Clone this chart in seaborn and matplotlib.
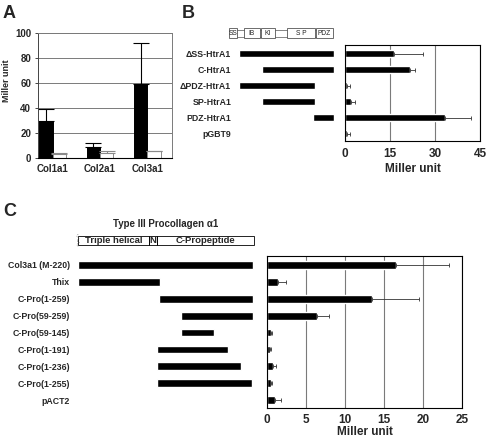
import numpy as np
import pandas as pd
import matplotlib
matplotlib.use('Agg')
import matplotlib.pyplot as plt
import seaborn as sns
from matplotlib.patches import Rectangle

# --- DATA ---
# Panel A: yeast two-hybrid, collagen baits
genes = ['Col1a1', 'Col2a1', 'Col3a1']
a_fusion = [29.5, 9.0, 59.0]
a_fusion_sd = [9.5, 2.7, 33.0]
a_control = [3.5, 4.0, 5.5]
a_control_sd = [0.2, 1.5, 0.2]

# Panel B: HtrA1 deletion constructs
b_labels = ['\u0394SS-HtrA1', 'C-HtrA1', '\u0394PDZ-HtrA1', 'SP-HtrA1', 'PDZ-HtrA1', 'pGBT9']
b_values = [16.2, 21.8, 0.7, 2.0, 33.3, 0.7]
b_sd = [9.8, 1.6, 0.8, 1.3, 8.6, 0.9]
b_start = [47, 151, 47, 151, 384, np.nan]
b_end = [480, 480, 393, 393, 480, np.nan]
htra1_domains = ['SS', 'IB', 'KI', 'S P', 'PDZ']
htra1_dom_start = [1, 69, 147, 266, 398]
htra1_dom_end = [37, 142, 211, 393, 475]

# Panel C: type III procollagen constructs
c_labels = ['Col3a1 (M-220)', 'Thix', 'C-Pro(1-259)', 'C-Pro(59-259)', 'C-Pro(59-145)',
            'C-Pro(1-191)', 'C-Pro(1-236)', 'C-Pro(1-255)', 'pACT2']
c_values = [16.5, 1.4, 13.4, 6.4, 0.5, 0.4, 0.8, 0.5, 1.0]
c_sd = [6.8, 1.0, 6.1, 1.5, 0.2, 0.1, 0.3, 0.1, 0.8]
c_start = [-213, -213, 5, 65, 65, 0, 0, 0, np.nan]
c_end = [259, 7, 259, 259, 154, 191, 227, 256, np.nan]
col3_domains = ['Triple helical', 'N', 'C-Propeptide']
col3_dom_start = [-213, -22, 0]
col3_dom_end = [-22, 0, 262]

# --- STYLE ---
sns.set_theme(style='white')
plt.rcParams['font.family'] = ['Liberation Sans', 'DejaVu Sans']
plt.rcParams['font.weight'] = 'bold'

W, H = 488, 440
fig = plt.figure(figsize=(W / 100, H / 100), dpi=100)


def px_axes(left, top, right, bottom):
    # axes placed by pixel box (origin top-left)
    return fig.add_axes([left / W, 1 - bottom / H, (right - left) / W, (bottom - top) / H])


GRID = '#7a7a7a'

# --- PANEL A ---
axA = px_axes(38, 33, 172, 158)
dfA = pd.DataFrame({'gene': genes * 2,
                    'value': a_fusion + a_control,
                    'group': ['fusion'] * 3 + ['control'] * 3})
sns.barplot(data=dfA, x='gene', y='value', hue='group',
            palette={'fusion': 'black', 'control': 'white'}, saturation=1,
            width=0.56, errorbar=None, legend=False, ax=axA,
            edgecolor='black', linewidth=0.7)
for bar in axA.containers[1]:
    bar.set_edgecolor('#8a8a8a')
for cont, sd, col in zip(axA.containers, [a_fusion_sd, a_control_sd], ['black', '#8a8a8a']):
    xs = [b.get_x() + b.get_width() / 2 for b in cont]
    hs = [b.get_height() for b in cont]
    axA.errorbar(xs, hs, yerr=[np.zeros(len(sd)), sd], fmt='none', ecolor=col,
                 elinewidth=0.8, capsize=5.5, capthick=0.8)
axA.set_xlim(-0.31, 2.52)
axA.set_ylim(0, 100)
axA.set_yticks(range(0, 101, 20))
axA.yaxis.grid(True, color=GRID, lw=0.7)
axA.set_axisbelow(True)
for s in ['top', 'right']:
    axA.spines[s].set_color(GRID)
    axA.spines[s].set_linewidth(0.7)
axA.spines['left'].set_color('#444444')
axA.spines['bottom'].set_color('black')
axA.spines['left'].set_linewidth(0.7)
axA.spines['bottom'].set_linewidth(0.8)
axA.tick_params(axis='y', length=2, width=0.6, pad=3, labelsize=7, left=True)
axA.tick_params(axis='x', length=0, pad=4, labelsize=7)
axA.set_xlabel('')
axA.set_ylabel('Miller unit', fontsize=6.5, fontweight='bold')
axA.yaxis.set_label_coords(-0.2, 0.62)

# --- PANEL B ---
axB = px_axes(345, 45, 480, 141)
dfB = pd.DataFrame({'construct': b_labels, 'value': b_values})
sns.barplot(data=dfB, x='value', y='construct', orient='h', color='black', saturation=1,
            width=0.46, errorbar=None, ax=axB)
axB.errorbar(b_values, range(len(b_values)), xerr=[np.zeros(len(b_sd)), b_sd], fmt='none',
             ecolor='#333333', elinewidth=0.6, capsize=1.5, capthick=0.6)
axB.set_xlim(0, 45)
axB.set_ylim(len(b_labels) - 0.53, -0.55)
axB.set_xticks([0, 15, 30, 45])
axB.xaxis.grid(True, color=GRID, lw=0.8)
axB.set_axisbelow(True)
for s in axB.spines.values():
    s.set_color('black')
    s.set_linewidth(0.8)
axB.tick_params(axis='x', length=0, pad=5, labelsize=8.5)
axB.tick_params(axis='y', left=False, labelleft=False)
axB.set_ylabel('')
axB.set_xlabel('Miller unit', fontsize=8.5, fontweight='bold', labelpad=2)

# constructs B
cb = px_axes(234, 45, 340, 141)
cb.barh(range(len(b_labels)), np.array(b_end) - np.array(b_start), left=b_start,
        height=0.46, color='black')
cb.set_xlim(23.8, 507.4)
cb.set_ylim(len(b_labels) - 0.53, -0.55)
cb.set_yticks(range(len(b_labels)))
cb.set_yticklabels(b_labels)
cb.tick_params(axis='y', length=0, pad=2, labelsize=6.3)
cb.tick_params(axis='x', bottom=False, labelbottom=False)
for s in cb.spines.values():
    s.set_visible(False)
cb.patch.set_alpha(0)
yc, hh = -1.30, 0.63
for i, (name, s0, e0) in enumerate(zip(htra1_domains, htra1_dom_start, htra1_dom_end)):
    cb.add_patch(Rectangle((s0, yc - hh / 2), e0 - s0, hh, fill=False, edgecolor='#555555',
                           lw=0.6, clip_on=False))
    cb.text((s0 + e0) / 2, yc, name, ha='center', va='center', fontsize=4.8,
            fontweight='normal', color='#222222', clip_on=False)
    if i + 1 < len(htra1_domains) and htra1_dom_start[i + 1] > e0:
        for dy in (-0.3 * hh, 0.4 * hh):
            cb.plot([e0, htra1_dom_start[i + 1]], [yc + dy, yc + dy], color='#555555',
                    lw=0.5, clip_on=False)

# --- PANEL C ---
axC = px_axes(267, 256, 462, 408)
dfC = pd.DataFrame({'construct': c_labels, 'value': c_values})
sns.barplot(data=dfC, x='value', y='construct', orient='h', color='black', saturation=1,
            width=0.46, errorbar=None, ax=axC)
axC.errorbar(c_values, range(len(c_values)), xerr=[np.zeros(len(c_sd)), c_sd], fmt='none',
             ecolor='#333333', elinewidth=0.6, capsize=1.5, capthick=0.6)
axC.set_xlim(0, 25)
axC.set_ylim(len(c_labels) - 0.53, -0.53)
axC.set_xticks(range(0, 26, 5))
axC.xaxis.grid(True, color=GRID, lw=0.8)
axC.set_axisbelow(True)
for s in axC.spines.values():
    s.set_color('black')
    s.set_linewidth(0.8)
axC.tick_params(axis='x', length=0, pad=4, labelsize=8.5)
axC.tick_params(axis='y', left=False, labelleft=False)
axC.set_ylabel('')
axC.set_xlabel('Miller unit', fontsize=8.5, fontweight='bold', labelpad=0.5)

# constructs C
cc = px_axes(74, 256, 262, 408)
cc.barh(range(len(c_labels)), np.array(c_end) - np.array(c_start), left=c_start,
        height=0.46, color='black')
cc.set_xlim(-223.9, 283.2)
cc.set_ylim(len(c_labels) - 0.53, -0.53)
cc.set_yticks(range(len(c_labels)))
cc.set_yticklabels(c_labels)
cc.tick_params(axis='y', length=0, pad=3, labelsize=6.3)
cc.tick_params(axis='x', bottom=False, labelbottom=False)
for s in cc.spines.values():
    s.set_visible(False)
cc.patch.set_alpha(0)
top, bot = -1.715, -1.18
for name, s0, e0 in zip(col3_domains, col3_dom_start, col3_dom_end):
    cc.add_patch(Rectangle((s0, top), e0 - s0, bot - top, fill=False, edgecolor='black',
                           lw=0.6, clip_on=False))
    cc.text((s0 + e0) / 2, (top + bot) / 2, name, ha='center', va='center', fontsize=6.8,
            fontweight='bold', clip_on=False)
# break mark at the left end of the diagram
x0 = col3_dom_start[0]
zig_y = np.linspace(top - 0.1, bot + 0.1, 7)
zig_x = x0 + np.array([0, -3, 3, -3, 3, -3, 0])
cc.plot(zig_x, zig_y, color='#555555', lw=0.5, ls=':', clip_on=False)
cc.text((col3_dom_start[0] + col3_dom_end[-1]) / 2, -2.43, 'Type III Procollagen \u03b11',
        ha='center', va='center', fontsize=7, fontweight='bold', clip_on=False)

# panel letters
fig.text(3 / W, 1 - 5 / H, 'A', fontsize=13, fontweight='bold', va='top', ha='left')
fig.text(182 / W, 1 - 5 / H, 'B', fontsize=13, fontweight='bold', va='top', ha='left')
fig.text(3 / W, 1 - 203 / H, 'C', fontsize=13, fontweight='bold', va='top', ha='left')

fig.savefig('out.png', dpi=100)
